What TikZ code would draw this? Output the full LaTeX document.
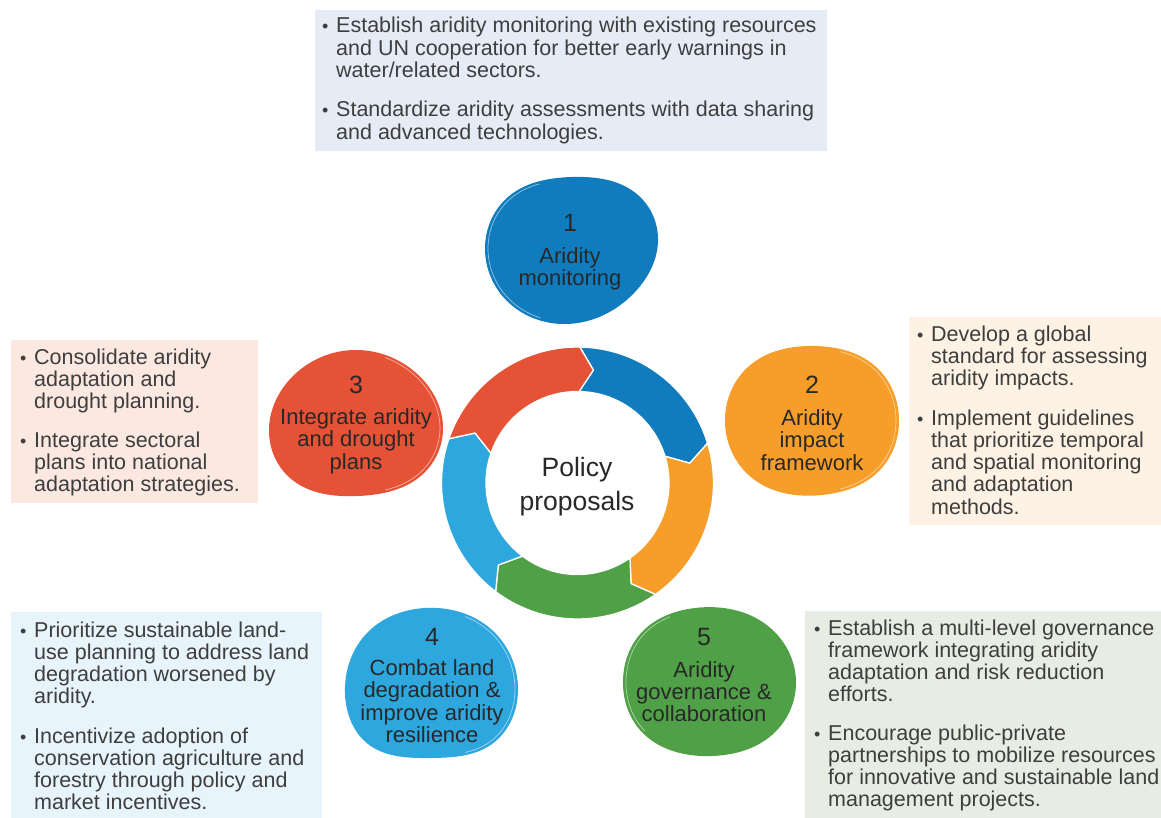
\documentclass[tikz,border=0pt]{standalone}
\usepackage{fontspec}
\setmainfont{Liberation Sans}
\usepackage{array}
\usetikzlibrary{hobby}
\definecolor{cBlue}{RGB}{16,124,190}
\definecolor{cOrange}{RGB}{247,157,41}
\definecolor{cRed}{RGB}{230,82,53}
\definecolor{cLight}{RGB}{46,167,222}
\definecolor{cGreen}{RGB}{79,160,70}
\definecolor{bTop}{RGB}{229,236,246}
\definecolor{bRight}{RGB}{253,242,228}
\definecolor{bLeft}{RGB}{251,233,225}
\definecolor{bBL}{RGB}{232,244,251}
\definecolor{bBR}{RGB}{232,237,227}
\definecolor{cText}{RGB}{62,62,62}
\definecolor{cLab}{RGB}{40,40,40}
\newcommand\mybody{\fontsize{21.5}{22.3}\selectfont}
\newcommand\mylab{\fontsize{22}{22.3}\selectfont}
\newcommand\mynum{\fontsize{25}{26}\selectfont}
\newcommand\mycenterfont{\fontsize{26.5}{34}\selectfont}
\newcommand\bul{\makebox[22pt][c]{\fontsize{18}{18}\selectfont •}}
\begin{document}
\begin{tikzpicture}[x=1pt,y=-1pt,
  txt/.style={inner sep=0pt, anchor=base west, font=\mybody, text=cText},
  lab/.style={inner sep=0pt, anchor=base, font=\mylab, text=cLab},
  num/.style={inner sep=0pt, anchor=base, font=\mynum, text=cLab},
  panel/.style={fill=#1, draw=none},
  seg/.style={fill=#1, draw=white, line width=1.3pt, line join=miter},
  blob/.style={fill=#1, use Hobby shortcut, closed=true},
  sheen/.style={draw=white, opacity=0.55, line width=0.7pt, use Hobby shortcut, closed=true}]
\useasboundingbox (0,0) rectangle (1161,818);
\fill[white] (0,0) rectangle (1161,818);

% panels
\fill[panel=bTop] (315,10) rectangle (827,151);
\fill[panel=bRight] (909,317) rectangle (1161,525);
\fill[panel=bLeft] (11,340) rectangle (258,503);
\fill[panel=bBL] (11,612) rectangle (322,818);
\fill[panel=bBR] (805,611) rectangle (1161,818);

% panel texts
\node[txt] (t1a) at (314,33) {\begin{tabular}[t]{@{}l@{}l@{}}\bul & Establish aridity monitoring with existing resources\\ & and UN cooperation for better early warnings in\\ & water/related sectors.\end{tabular}};
\node[txt] (t1b) at (314,117) {\begin{tabular}[t]{@{}l@{}l@{}}\bul & Standardize aridity assessments with data sharing\\ & and advanced technologies.\end{tabular}};

\node[txt] (t2a) at (909,341) {\begin{tabular}[t]{@{}l@{}l@{}}\bul & Develop a global\\ & standard for assessing\\ & aridity impacts.\end{tabular}};
\node[txt] (t2b) at (909,425) {\begin{tabular}[t]{@{}l@{}l@{}}\bul & Implement guidelines\\ & that prioritize temporal\\ & and spatial monitoring\\ & and adaptation\\ & methods.\end{tabular}};

\node[txt] (t3a) at (12,364) {\begin{tabular}[t]{@{}l@{}l@{}}\bul & Consolidate aridity\\ & adaptation and\\ & drought planning.\end{tabular}};
\node[txt] (t3b) at (12,447) {\begin{tabular}[t]{@{}l@{}l@{}}\bul & Integrate sectoral\\ & plans into national\\ & adaptation strategies.\end{tabular}};

\node[txt] (t4a) at (12,637) {\begin{tabular}[t]{@{}l@{}l@{}}\bul & Prioritize sustainable land-\\ & use planning to address land\\ & degradation worsened by\\ & aridity.\end{tabular}};
\node[txt] (t4b) at (12,743) {\begin{tabular}[t]{@{}l@{}l@{}}\bul & Incentivize adoption of\\ & conservation agriculture and\\ & forestry through policy and\\ & market incentives.\end{tabular}};

\node[txt] (t5a) at (806,635) {\begin{tabular}[t]{@{}l@{}l@{}}\bul & Establish a multi-level governance\\ & framework integrating aridity\\ & adaptation and risk reduction\\ & efforts.\end{tabular}};
\node[txt] (t5b) at (806,740) {\begin{tabular}[t]{@{}l@{}l@{}}\bul & Encourage public-private\\ & partnerships to mobilize resources\\ & for innovative and sustainable land\\ & management projects.\end{tabular}};

% ring
\begin{scope}[shift={(577.5,483)}, y=1pt]
  \def\Ro{136}\def\Ri{91.5}\def\Rm{114}
  \filldraw[seg=cBlue] (89:\Ro) arc[start angle=89,end angle=17,radius=\Ro] -- (10:\Rm) -- (17:\Ri) arc[start angle=17,end angle=89,radius=\Ri] -- (82:\Rm) -- cycle;
  \filldraw[seg=cOrange] (17:\Ro) arc[start angle=17,end angle=-55,radius=\Ro] -- (-62:\Rm) -- (-55:\Ri) arc[start angle=-55,end angle=17,radius=\Ri] -- (10:\Rm) -- cycle;
  \filldraw[seg=cGreen] (-55:\Ro) arc[start angle=-55,end angle=-127,radius=\Ro] -- (-134:\Rm) -- (-127:\Ri) arc[start angle=-127,end angle=-55,radius=\Ri] -- (-62:\Rm) -- cycle;
  \filldraw[seg=cLight] (-127:\Ro) arc[start angle=-127,end angle=-199,radius=\Ro] -- (-206:\Rm) -- (-199:\Ri) arc[start angle=-199,end angle=-127,radius=\Ri] -- (-134:\Rm) -- cycle;
  \filldraw[seg=cRed] (161:\Ro) arc[start angle=161,end angle=89,radius=\Ro] -- (82:\Rm) -- (89:\Ri) arc[start angle=89,end angle=161,radius=\Ri] -- (154:\Rm) -- cycle;
\end{scope}
\node[inner sep=0pt, anchor=base, font=\mycenterfont, text=cLab] (center) at (577,476) {\begin{tabular}[t]{@{}c@{}}Policy\\proposals\end{tabular}};

% blobs
\fill[blob=cBlue] (485,250) .. (508,197) .. (572,177) .. (638,195) .. (658,238) .. (635,292) .. (566,324) .. (506,300);
\begin{scope}
  \clip (470,185) rectangle (540,330);
  \draw[sheen, shift={(571,250)}, scale=0.965, shift={(-571,-250)}] (485,250) .. (508,197) .. (572,177) .. (638,195) .. (658,238) .. (635,292) .. (566,324) .. (506,300);
\end{scope}
\fill[blob=cOrange] (725,422) .. (748,367) .. (815,346) .. (875,366) .. (899,420) .. (880,470) .. (822,495) .. (752,478);
\begin{scope}
  \clip (840,340) rectangle (910,490);
  \draw[sheen, shift={(812,420)}, scale=0.965, shift={(-812,-420)}] (725,422) .. (748,367) .. (815,346) .. (875,366) .. (899,420) .. (880,470) .. (822,495) .. (752,478);
\end{scope}
\fill[blob=cRed] (269,432) .. (293,376) .. (355,350) .. (415,372) .. (443,428) .. (423,474) .. (358,496) .. (290,478);
\begin{scope}
  \clip (385,345) rectangle (450,495);
  \draw[sheen, shift={(356,423)}, scale=0.965, shift={(-356,-423)}] (269,432) .. (293,376) .. (355,350) .. (415,372) .. (443,428) .. (423,474) .. (358,496) .. (290,478);
\end{scope}
\fill[blob=cLight] (345,694) .. (368,632) .. (425,608) .. (492,630) .. (518,688) .. (492,744) .. (430,758) .. (368,744);
\begin{scope}
  \clip (465,610) rectangle (525,760);
  \draw[sheen, shift={(431,683)}, scale=0.965, shift={(-431,-683)}] (345,694) .. (368,632) .. (425,608) .. (492,630) .. (518,688) .. (492,744) .. (430,758) .. (368,744);
\end{scope}
\fill[blob=cGreen] (623,680) .. (642,632) .. (695,608) .. (768,626) .. (796,682) .. (772,735) .. (712,756) .. (640,730);
\begin{scope}
  \clip (615,605) rectangle (670,730);
  \draw[sheen, shift={(709,682)}, scale=0.965, shift={(-709,-682)}] (623,680) .. (642,632) .. (695,608) .. (768,626) .. (796,682) .. (772,735) .. (712,756) .. (640,730);
\end{scope}

% blob labels
\node[num] (n1) at (570,232) {1};
\node[lab] (l1) at (570,263) {\begin{tabular}[t]{@{}c@{}}Aridity\\monitoring\end{tabular}};
\node[num] (n2) at (812,393) {2};
\node[lab] (l2) at (812,425) {\begin{tabular}[t]{@{}c@{}}Aridity\\impact\\framework\end{tabular}};
\node[num] (n3) at (356,393) {3};
\node[lab] (l3) at (356,424) {\begin{tabular}[t]{@{}c@{}}Integrate aridity\\and drought\\plans\end{tabular}};
\node[num] (n4) at (432,645) {4};
\node[lab] (l4) at (432,675) {\begin{tabular}[t]{@{}c@{}}Combat land\\degradation \&\\improve aridity\\resilience\end{tabular}};
\node[num] (n5) at (704,645) {5};
\node[lab] (l5) at (704,677) {\begin{tabular}[t]{@{}c@{}}Aridity\\governance \&\\collaboration\end{tabular}};
\end{tikzpicture}
\end{document}
